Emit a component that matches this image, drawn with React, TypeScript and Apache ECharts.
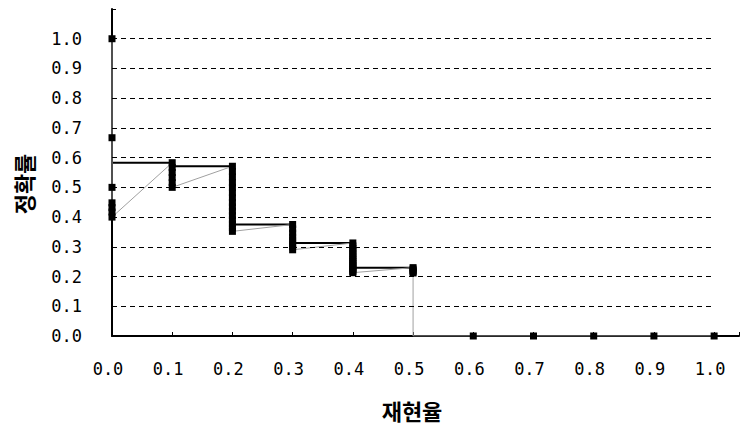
import React, { useEffect, useRef } from "react";
import * as echarts from "echarts";

// Raw precision / recall points, in retrieval order
const rawRecall = [
  0, 0, 0, 0, 0, 0, 0,
  0.1, 0.1, 0.1, 0.1, 0.1, 0.1,
  0.2, 0.2, 0.2, 0.2, 0.2, 0.2, 0.2, 0.2, 0.2, 0.2, 0.2, 0.2, 0.2, 0.2, 0.2,
  0.3, 0.3, 0.3, 0.3, 0.3, 0.3, 0.3, 0.3,
  0.4, 0.4, 0.4, 0.4, 0.4, 0.4, 0.4, 0.4, 0.4, 0.4, 0.4, 0.4, 0.4, 0.4, 0.4, 0.4,
  0.5, 0.5, 0.5, 0.5, 0.5,
  0.5,
  0.6, 0.7, 0.8, 0.9, 1.0,
];
const rawPrecision = [
  1.0, 0.667, 0.5, 0.448, 0.432, 0.417, 0.4,
  0.583, 0.567, 0.55, 0.533, 0.516, 0.5,
  0.571, 0.553, 0.535, 0.516, 0.5, 0.482, 0.465, 0.449, 0.434, 0.42, 0.405, 0.39, 0.377, 0.364, 0.352,
  0.375, 0.36, 0.346, 0.333, 0.321, 0.31, 0.3, 0.29,
  0.313, 0.303, 0.294, 0.286, 0.278, 0.27, 0.263, 0.256, 0.25, 0.244, 0.238, 0.233, 0.227, 0.222, 0.217, 0.213,
  0.23, 0.225, 0.22, 0.216, 0.212,
  0,
  0, 0, 0, 0, 0,
];
// the drop to zero at the last retrieved recall level carries no marker
const dropRecall = 0.5;

// Interpolated precision at the standard recall levels
const interpRecall = [0, 0.1, 0.2, 0.3, 0.4, 0.5];
const interpPrecision = [0.583, 0.583, 0.571, 0.375, 0.313, 0.23];

// Dashed reference levels
const gridLevels = [0.1, 0.2, 0.3, 0.4, 0.5, 0.6, 0.7, 0.8, 0.9, 1.0];

const xTitle = "재현율";
const yTitle = "정확률";

const labelFont = "DejaVu Sans Mono";
const titleFont = "Noto Sans CJK KR";

const fmt = (v: number) => (v > 1.0001 ? "" : v.toFixed(1));

export default function App() {
  const ref = useRef<HTMLDivElement>(null);

  useEffect(() => {
    document.body.style.margin = "0";
    const chart = echarts.init(ref.current!, null, { renderer: "svg" });

    const rawData = rawRecall.map((r, i) =>
      r === dropRecall && rawPrecision[i] === 0
        ? { value: [r, rawPrecision[i]], symbol: "none" }
        : { value: [r, rawPrecision[i]] }
    );
    const interpData = interpRecall.map((r, i) => [r, interpPrecision[i]]);

    const axisLine = { show: true, lineStyle: { color: "#000", width: 2 } };
    const axisTick = { show: true, inside: true, length: 4, lineStyle: { color: "#000", width: 1 } };
    const axisLabel = {
      formatter: fmt,
      color: "#000",
      fontFamily: labelFont,
      fontSize: 17,
    };

    chart.setOption({
      animation: false,
      backgroundColor: "#fff",
      grid: { left: 112, right: 0, top: 9, bottom: 89 },
      xAxis: {
        type: "value",
        min: 0,
        max: 1.0413,
        interval: 0.1,
        splitLine: { show: false },
        axisLine,
        axisTick,
        axisLabel: { ...axisLabel, margin: 24, padding: [0, 8, 0, 0] },
      },
      yAxis: {
        type: "value",
        min: 0,
        max: 1.1,
        interval: 0.1,
        splitLine: { show: false },
        axisLine,
        axisTick,
        axisLabel: { ...axisLabel, margin: 30 },
      },
      graphic: [
        {
          type: "text",
          x: 412,
          y: 410,
          style: {
            text: xTitle,
            font: `bold 22px "${titleFont}"`,
            fill: "#000",
            align: "center",
            verticalAlign: "middle",
          },
        },
        {
          type: "text",
          x: 23,
          y: 184,
          rotation: Math.PI / 2,
          style: {
            text: yTitle,
            font: `bold 22px "${titleFont}"`,
            fill: "#000",
            align: "center",
            verticalAlign: "middle",
          },
        },
      ],
      series: [
        {
          type: "line",
          data: rawData,
          symbol: "rect",
          symbolSize: 7,
          showSymbol: true,
          showAllSymbol: true,
          lineStyle: { color: "#a0a0a0", width: 1 },
          itemStyle: { color: "#000" },
          z: 3,
          markLine: {
            silent: true,
            symbol: ["none", "none"],
            label: { show: false },
            lineStyle: { color: "#000", type: [5, 4], width: 1 },
            data: gridLevels.map((v) => [{ coord: [0, v] }, { coord: [1, v] }]),
          },
        },
        {
          type: "line",
          data: interpData,
          step: "start",
          symbol: "none",
          lineStyle: { color: "#000", width: 2 },
          z: 2,
        },
      ],
    });

    return () => chart.dispose();
  }, []);

  return (
    <div
      ref={ref}
      style={{ width: 742, height: 425, overflow: "hidden", background: "#fff" }}
    />
  );
}
